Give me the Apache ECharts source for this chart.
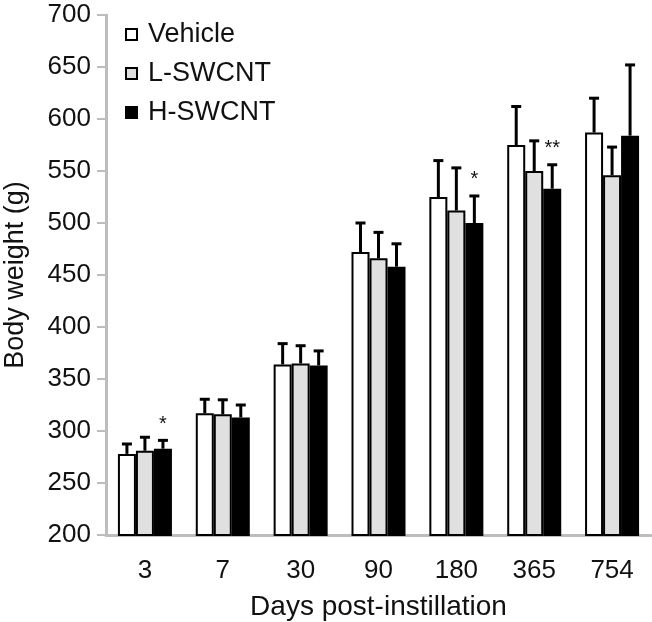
<!DOCTYPE html>
<html>
<head>
<meta charset="utf-8">
<script src="https://cdn.jsdelivr.net/npm/echarts@6/dist/echarts.min.js"></script>
<style>
html,body{margin:0;padding:0;background:#fff;}
#chart{width:652px;height:622px;}
</style>
</head>
<body>
<div id="chart"></div>
<script>
// ---- data ----
var categories = ['3', '7', '30', '90', '180', '365', '754'];
var seriesNames = ['Vehicle', 'L-SWCNT', 'H-SWCNT'];
var vehicleMean = [278, 317, 364, 472, 525, 575, 587];
var vehicleSD   = [9.5, 13.5, 20, 28, 35, 37, 33];
var lswMean     = [281, 316, 365, 466, 512, 550, 546];
var lswSD       = [13, 14, 17, 25, 41, 29, 27];
var hswMean     = [283, 313, 363, 458, 500, 533, 584];
var hswSD       = [8, 12, 14, 22, 26, 23, 68];
var hswSig      = ['*', '', '', '', '*', '**', ''];
var yTicks = {min: 200, max: 700, interval: 50};

var FONT = '"Liberation Sans", Arial, Helvetica, sans-serif';
var BAR_W = 18;
var means = [vehicleMean, lswMean, hswMean];
var sds = [vehicleSD, lswSD, hswSD];
var fills = ['#ffffff', '#e0e0e0', '#000000'];
var AXIS_C = '#bdbdbd';

function barCenterOffset(api, k) {
  var lay = api.barLayout ? api.barLayout({count: 3, barWidth: BAR_W, barGap: '0%'}) : null;
  if (lay && lay[k]) return lay[k].offsetCenter;
  return (k - 1) * BAR_W;
}

var series = [];
seriesNames.forEach(function (name, k) {
  series.push({
    name: name,
    type: 'bar',
    data: means[k],
    barWidth: BAR_W,
    barGap: '0%',
    itemStyle: {color: fills[k], borderColor: '#000', borderWidth: 2},
    z: 2
  });
});
seriesNames.forEach(function (name, k) {
  var d = means[k].map(function (m, i) { return [i, m, sds[k][i]]; });
  series.push({
    name: 'err-' + name,
    type: 'custom',
    z: 3,
    silent: true,
    data: d,
    renderItem: function (params, api) {
      var cat = api.value(0), m = api.value(1), sd = api.value(2);
      var off = barCenterOffset(api, k);
      var p0 = api.coord([cat, m]);
      var p1 = api.coord([cat, m + sd]);
      var x = p0[0] + off;
      return {
        type: 'group',
        children: [
          {type: 'line', shape: {x1: x, y1: p0[1], x2: x, y2: p1[1]},
           style: {stroke: '#000', lineWidth: 3}},
          {type: 'line', shape: {x1: x - 5, y1: p1[1], x2: x + 5, y2: p1[1]},
           style: {stroke: '#000', lineWidth: 3}}
        ]
      };
    }
  });
});
series.push({
  name: 'sig',
  type: 'custom',
  z: 4,
  silent: true,
  data: hswMean.map(function (m, i) { return [i, m + hswSD[i], hswSig[i]]; }),
  renderItem: function (params, api) {
    var cat = api.value(0), top = api.value(1);
    var label = hswSig[cat];
    if (!label) return null;
    var off = barCenterOffset(api, 2);
    var p = api.coord([cat, top]);
    return {
      type: 'text',
      style: {text: label, x: p[0] + off, y: p[1] - 16, align: 'center', verticalAlign: 'middle',
              font: '20px ' + FONT, fill: '#111'}
    };
  }
});

var chart = echarts.init(document.getElementById('chart'), null, {renderer: 'canvas'});
chart.setOption({
  animation: false,
  backgroundColor: '#fff',
  textStyle: {fontFamily: FONT},
  grid: {left: 106, right: 1, top: 15, bottom: 87, containLabel: false, outerBoundsMode: 'none'},
  legend: {
    data: seriesNames,
    orient: 'vertical',
    left: 120,
    top: 16,
    icon: 'rect',
    itemWidth: 11,
    itemHeight: 11,
    itemGap: 12,
    selectedMode: false,
    textStyle: {fontSize: 27, color: '#111', fontFamily: FONT, padding: [0, 0, 0, 6]}
  },
  xAxis: {
    type: 'category',
    data: categories,
    name: 'Days post-instillation',
    nameLocation: 'middle',
    nameGap: 58,
    nameTextStyle: {fontSize: 28, color: '#111', fontFamily: FONT},
    axisLine: {lineStyle: {color: AXIS_C, width: 3}},
    axisTick: {show: false},
    axisLabel: {fontSize: 26, color: '#111', margin: 23, fontFamily: FONT}
  },
  yAxis: {
    type: 'value',
    min: yTicks.min,
    max: yTicks.max,
    interval: yTicks.interval,
    name: 'Body weight (g)',
    nameLocation: 'middle',
    nameGap: 77,
    nameTextStyle: {fontSize: 27, color: '#111', fontFamily: FONT},
    axisLine: {show: true, lineStyle: {color: AXIS_C, width: 3}},
    axisTick: {show: true, length: 9, lineStyle: {color: AXIS_C, width: 2}},
    splitLine: {show: false},
    axisLabel: {fontSize: 26, color: '#111', margin: 15, fontFamily: FONT}
  },
  series: series
});
</script>
</body>
</html>
